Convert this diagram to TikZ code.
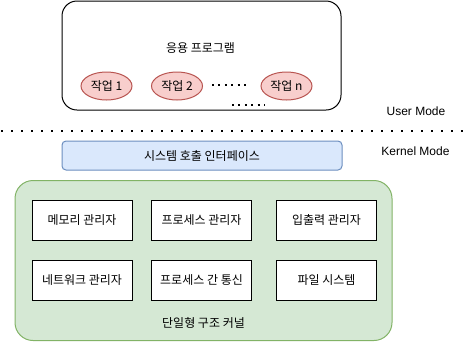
\documentclass[tikz,border=0pt]{standalone}
\usepackage{fontspec}
\setmainfont{Liberation Sans}
\newfontfamily\kr{Noto Sans CJK KR}
\usetikzlibrary{shapes.geometric}
\definecolor{redfill}{HTML}{F8CECC}
\definecolor{redline}{HTML}{B85450}
\definecolor{bluefill}{HTML}{DAE8FC}
\definecolor{blueline}{HTML}{6C8EBF}
\definecolor{greenfill}{HTML}{D5E8D4}
\definecolor{greenline}{HTML}{82B366}
\tikzset{
  txt/.style={font=\kr\fontsize{12}{14}\selectfont, inner sep=0pt},
  taskell/.style={ellipse, draw=redline, fill=redfill, line width=1pt, minimum width=51pt, minimum height=28pt, inner sep=0pt, font=\kr\fontsize{12}{14}\selectfont},
  modbox/.style={draw=black, fill=white, line width=1pt, minimum width=100pt, minimum height=40pt, inner sep=0pt, font=\kr\fontsize{12}{14}\selectfont},
  modetxt/.style={font=\fontsize{12}{14}\selectfont, inner sep=0pt},
  dots/.style={line width=2pt, dash pattern=on 2pt off 4.4pt}
}
\begin{document}
\begin{tikzpicture}[x=1pt,y=-1pt]
\useasboundingbox (0,0) rectangle (463,341);
% user program box
\node[draw=black, line width=1pt, rounded corners=15pt, minimum width=279pt, minimum height=109pt, inner sep=0pt] (app) at (201.5,55.5) {};
\node[txt] (apptitle) at (200.5,48) {응용 프로그램};
\node[taskell] (t1) at (106.5,86) {작업 1};
\node[taskell] (t2) at (177,86) {작업 2};
\node[taskell] (tn) at (286.5,86) {작업 n};
\draw[dots] (212,84.5) -- (246,84.5);
\draw[dots] (232,105) -- (265,105);
% modes
\node[modetxt] (user) at (416,111) {User Mode};
\draw[line width=2pt, dash pattern=on 2pt off 8pt] (1,130.5) -- (463,130.5);
\node[modetxt] (kernel) at (415.5,151.5) {Kernel Mode};
% system call interface
\node[draw=blueline, fill=bluefill, line width=1pt, rounded corners=4pt, minimum width=280pt, minimum height=29pt, inner sep=0pt, font=\kr\fontsize{12}{14}\selectfont] (sci) at (202,155.5) {시스템 호출 인터페이스};
% kernel
\node[draw=greenline, fill=greenfill, line width=1pt, rounded corners=18pt, minimum width=377pt, minimum height=160pt, inner sep=0pt] (kern) at (203.5,260.5) {};
\node[modbox] (mem) at (82,220) {메모리 관리자};
\node[modbox] (proc) at (201.5,220) {프로세스 관리자};
\node[modbox] (io) at (326.5,220) {입출력 관리자};
\node[modbox] (net) at (82,280) {네트워크 관리자};
\node[modbox] (ipc) at (201.5,280) {프로세스 간 통신};
\node[modbox] (fs) at (326.5,280) {파일 시스템};
\node[txt] (kerntitle) at (203.5,323) {단일형 구조 커널};
\end{tikzpicture}
\end{document}
